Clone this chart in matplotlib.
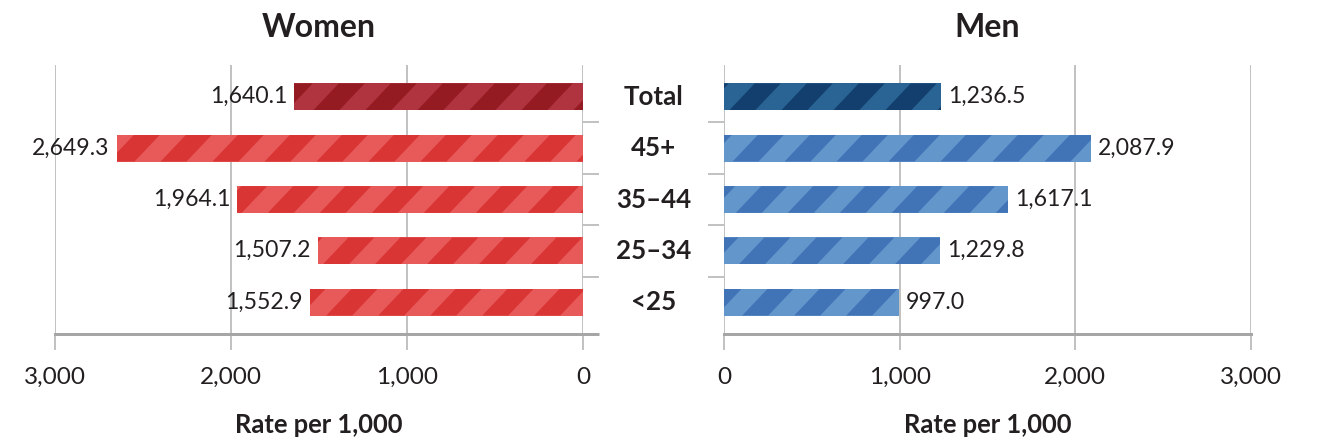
import matplotlib
matplotlib.use("Agg")
import matplotlib.pyplot as plt
import matplotlib.transforms as mtransforms
from matplotlib.patches import Polygon
import numpy as np

categories = ["Total", "45+", "35\u201344", "25\u201334", "<25"]
women = [1640.1, 2649.3, 1964.1, 1507.2, 1552.9]
men = [1236.5, 2087.9, 1617.1, 1229.8, 997.0]
xticks = [0, 1000, 2000, 3000]
xticklabels = ["0", "1,000", "2,000", "3,000"]

women_face = ["#b0343f"] + ["#e85a5a"] * 4
women_stripe = ["#951b23"] + ["#da3535"] * 4
men_face = ["#2a6494"] + ["#6396cb"] * 4
men_stripe = ["#133f6e"] + ["#4174b7"] * 4

DPI = 200
W, H = 1319, 440
plt.rcParams["font.family"] = ["Lato", "DejaVu Sans"]
TXT = "#231f20"
GRID = "#b3b3b3"
PX = 72.0 / DPI  # points per pixel

fig = plt.figure(figsize=(W / DPI, H / DPI), dpi=DPI)
ax_top, ax_bot = 65, 334
axL = fig.add_axes([55 / W, 1 - ax_bot / H, 528 / W, (ax_bot - ax_top) / H])
axR = fig.add_axes([724 / W, 1 - ax_bot / H, 527 / W, (ax_bot - ax_top) / H])

y = np.arange(len(categories))

def style(ax, side):
    ax.set_xlim(3000, 0) if side == "L" else ax.set_xlim(0, 3000)
    ax.set_ylim(4.62, -0.62)
    for s in ["top", "left", "right"]:
        ax.spines[s].set_visible(False)
    ax.spines["bottom"].set_color("#a6a6a6")
    ax.spines["bottom"].set_linewidth(3 * PX)
    ax.set_axisbelow(True)
    ax.grid(axis="x", color=GRID, linewidth=1.6 * PX)
    ax.grid(axis="y", visible=False)
    ax.set_xticks(xticks)
    ax.set_xticklabels(xticklabels)
    ax.tick_params(axis="x", direction="out", length=16 * PX, width=1.6 * PX,
                   color=GRID, pad=6, labelsize=8.8, labelcolor=TXT)
    ax.set_yticks(y[:-1] + 0.5)
    ax.set_yticklabels([])
    if side == "L":
        ax.yaxis.tick_right()
    else:
        ax.yaxis.tick_left()
    ax.tick_params(axis="y", direction="out", length=16 * PX, width=1.6 * PX, color=GRID)
    ax.set_xlabel("Rate per 1,000", fontsize=9.2, fontweight="bold", color=TXT, labelpad=9)

style(axL, "L")
style(axR, "R")

ext = 16 / 528
axL.plot([1, 1 + ext], [0, 0], transform=axL.transAxes, color="#a6a6a6",
         linewidth=3 * PX, clip_on=False, solid_capstyle="butt")

PERIOD = 52.0   # stripe period in pixels
SLANT = 0.95    # horizontal shift per vertical pixel


def add_stripes(ax, bar, color):
    bb = bar.get_window_extent()
    x0, x1, y0, y1 = bb.x0, bb.x1, bb.y0, bb.y1
    h = y1 - y0
    start = np.floor((x0 - h * SLANT - PERIOD) / PERIOD) * PERIOD + (SLANT * y0) % PERIOD
    c = start
    while c < x1 + PERIOD:
        pts = [(c, y0), (c + PERIOD / 2, y0),
               (c + PERIOD / 2 + SLANT * h, y1), (c + SLANT * h, y1)]
        poly = Polygon(pts, closed=True, facecolor=color, edgecolor="none",
                       transform=mtransforms.IdentityTransform(), zorder=bar.get_zorder() + 0.1)
        ax.add_artist(poly)
        poly.set_clip_path(bar)
        c += PERIOD


for i in range(len(categories)):
    bl = axL.barh(y[i], women[i], height=0.52, color=women_face[i], linewidth=0)[0]
    br = axR.barh(y[i], men[i], height=0.52, color=men_face[i], linewidth=0)[0]
    add_stripes(axL, bl, women_stripe[i])
    add_stripes(axR, br, men_stripe[i])
    axL.annotate(f"{women[i]:,.1f}", (women[i], y[i]), xytext=(-7 * PX, 0),
                 textcoords="offset points", ha="right", va="center",
                 fontsize=8.3, color=TXT)
    axR.annotate(f"{men[i]:,.1f}", (men[i], y[i]), xytext=(7 * PX, 0),
                 textcoords="offset points", ha="left", va="center",
                 fontsize=8.3, color=TXT)

trans = mtransforms.blended_transform_factory(fig.transFigure, axL.transData)
cx = (583 + 724) / 2 / W
for i, c in enumerate(categories):
    axL.text(cx, y[i], c, transform=trans, ha="center", va="center",
             fontsize=9.3, fontweight="bold", color=TXT, clip_on=False)

axL.set_title("Women", fontsize=11.5, fontweight="bold", color=TXT, pad=10)
axR.set_title("Men", fontsize=11.5, fontweight="bold", color=TXT, pad=10)

fig.savefig("out.png", dpi=DPI)
